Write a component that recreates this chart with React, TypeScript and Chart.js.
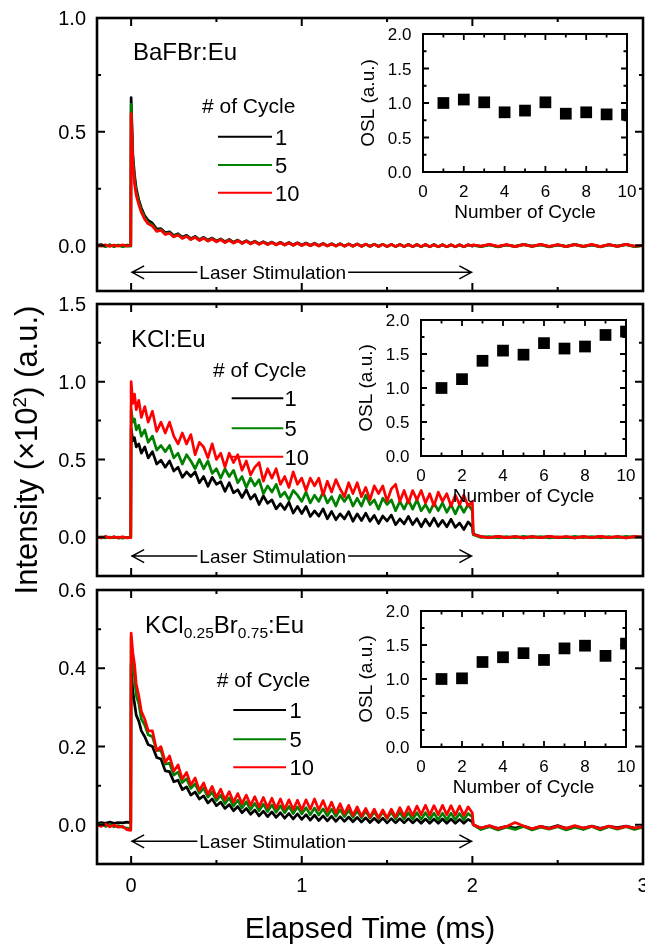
import React, { useEffect, useRef } from 'react';
import { Chart, registerables } from 'chart.js';

Chart.register(...registerables);

const FONT = '"Liberation Sans", Arial, Helvetica, sans-serif';
const PAGE_W = 645;
const PAGE_H = 945;

// ---------------- data ----------------
// elapsed time (ms) shared by all decay curves
const TIME_MS = [
  -0.2, -0.175, -0.15, -0.125, -0.1, -0.075, -0.05, -0.025, -0.002,
  0, 0.01, 0.02, 0.03, 0.045, 0.06, 0.08, 0.1,
  0.125, 0.15, 0.175, 0.2, 0.225, 0.25, 0.275, 0.3, 0.325, 0.35, 0.375, 0.4, 0.425, 0.45, 0.475, 0.5, 0.525, 0.55, 0.575, 0.6,
  0.625, 0.65, 0.675, 0.7, 0.725, 0.75, 0.775, 0.8, 0.825, 0.85, 0.875, 0.9, 0.925, 0.95, 0.975, 1.0,
  1.025, 1.05, 1.075, 1.1, 1.125, 1.15, 1.175, 1.2, 1.225, 1.25, 1.275, 1.3, 1.325, 1.35, 1.375, 1.4,
  1.425, 1.45, 1.475, 1.5, 1.525, 1.55, 1.575, 1.6, 1.625, 1.65, 1.675, 1.7, 1.725, 1.75, 1.775, 1.8,
  1.825, 1.85, 1.875, 1.9, 1.925, 1.95, 1.975, 2.0,
  2.005, 2.05, 2.1, 2.15, 2.2, 2.25, 2.3, 2.35, 2.4, 2.45, 2.5, 2.55, 2.6, 2.65, 2.7, 2.75, 2.8, 2.85, 2.9, 2.95, 3.0,
];

// BaFBr:Eu  (intensity x10^2, a.u.)
const BAFBR_C1 = [
  0.0, 0.004, -0.003, 0.003, -0.004, 0.002, -0.003, 0.002, 0.0,
  0.65, 0.40, 0.31, 0.25, 0.20, 0.165, 0.13, 0.11,
  0.098, 0.072, 0.074, 0.056, 0.060, 0.044, 0.052, 0.036, 0.045, 0.030, 0.040, 0.026, 0.036, 0.024, 0.033, 0.020, 0.029, 0.017, 0.027, 0.014,
  0.024, 0.012, 0.021, 0.010, 0.019, 0.008, 0.017, 0.007, 0.015, 0.005, 0.014, 0.004, 0.013, 0.003, 0.012, 0.002,
  0.011, 0.001, 0.010, 0.0, 0.009, -0.001, 0.008, -0.001, 0.008, -0.002, 0.007, -0.002, 0.007, -0.003, 0.006, -0.003,
  0.006, -0.003, 0.005, -0.004, 0.005, -0.004, 0.005, -0.004, 0.004, -0.005, 0.004, -0.005, 0.004, -0.005, 0.004, -0.005,
  0.003, -0.005, 0.003, -0.005, 0.003, -0.005, 0.003, -0.002,
  0.002, -0.004, 0.004, -0.005, 0.003, -0.004, 0.005, -0.003, 0.004, -0.005, 0.003, -0.004, 0.005, -0.004, 0.003, -0.005, 0.004, -0.003, 0.005, -0.004, 0.0,
];
const BAFBR_C5 = [
  -0.004, 0.0, -0.005, 0.002, -0.004, 0.001, -0.005, -0.002, -0.003,
  0.62, 0.38, 0.29, 0.235, 0.19, 0.155, 0.122, 0.10,
  0.090, 0.066, 0.070, 0.051, 0.056, 0.040, 0.048, 0.033, 0.041, 0.027, 0.037, 0.023, 0.033, 0.020, 0.030, 0.017, 0.027, 0.014, 0.024, 0.011,
  0.022, 0.009, 0.019, 0.007, 0.017, 0.006, 0.015, 0.004, 0.013, 0.003, 0.012, 0.002, 0.011, 0.001, 0.010, 0.0,
  0.009, -0.001, 0.008, -0.002, 0.008, -0.002, 0.007, -0.003, 0.007, -0.003, 0.006, -0.003, 0.006, -0.004, 0.005, -0.004,
  0.005, -0.004, 0.005, -0.005, 0.004, -0.005, 0.004, -0.005, 0.004, -0.005, 0.003, -0.006, 0.003, -0.006, 0.003, -0.006,
  0.003, -0.006, 0.002, -0.006, 0.002, -0.006, 0.002, -0.003,
  0.0, -0.005, 0.003, -0.006, 0.002, -0.005, 0.004, -0.004, 0.003, -0.006, 0.002, -0.005, 0.004, -0.005, 0.002, -0.006, 0.003, -0.004, 0.004, -0.005, -0.001,
];
const BAFBR_C10 = [
  0.002, -0.003, 0.003, -0.004, 0.002, -0.003, 0.003, -0.002, 0.0,
  0.58, 0.36, 0.27, 0.22, 0.18, 0.145, 0.115, 0.095,
  0.085, 0.062, 0.067, 0.048, 0.054, 0.038, 0.046, 0.031, 0.040, 0.026, 0.036, 0.022, 0.032, 0.019, 0.029, 0.016, 0.026, 0.013, 0.023, 0.011,
  0.021, 0.009, 0.019, 0.007, 0.017, 0.005, 0.015, 0.004, 0.013, 0.003, 0.012, 0.002, 0.011, 0.001, 0.010, 0.0,
  0.009, -0.001, 0.008, -0.002, 0.008, -0.002, 0.007, -0.003, 0.007, -0.003, 0.006, -0.003, 0.006, -0.004, 0.006, -0.004,
  0.005, -0.004, 0.005, -0.004, 0.005, -0.005, 0.004, -0.005, 0.004, -0.005, 0.004, -0.005, 0.004, -0.005, 0.003, -0.005,
  0.003, -0.005, 0.003, -0.005, 0.003, -0.005, 0.003, -0.002,
  0.003, -0.003, 0.005, -0.004, 0.004, -0.005, 0.004, -0.004, 0.005, -0.004, 0.004, -0.005, 0.004, -0.004, 0.005, -0.005, 0.004, -0.004, 0.005, -0.003, 0.001,
];

// KCl:Eu
const KCL_C1 = [
  0.0, -0.005, 0.003, -0.004, 0.002, -0.006, 0.0, -0.004, -0.002,
  0.70, 0.62, 0.64, 0.58, 0.60, 0.54, 0.58, 0.51,
  0.55, 0.47, 0.495, 0.45, 0.49, 0.425, 0.45, 0.385, 0.42, 0.39, 0.42, 0.35, 0.39, 0.327, 0.385, 0.34, 0.357, 0.295, 0.35, 0.285,
  0.305, 0.255, 0.305, 0.245, 0.275, 0.21, 0.266, 0.218, 0.24, 0.182, 0.215, 0.178, 0.225, 0.155, 0.198, 0.152,
  0.198, 0.133, 0.169, 0.135, 0.182, 0.118, 0.165, 0.112, 0.15, 0.117, 0.164, 0.102, 0.15, 0.107, 0.154, 0.102,
  0.14, 0.088, 0.136, 0.104, 0.142, 0.08, 0.117, 0.085, 0.133, 0.081, 0.119, 0.067, 0.115, 0.073, 0.122, 0.07,
  0.108, 0.066, 0.115, 0.063, 0.091, 0.049, 0.098, 0.066,
  0.02, 0.004, -0.003, 0.005, -0.004, 0.003, -0.005, 0.004, -0.003, 0.005, -0.004, 0.002, -0.005, 0.004, -0.003, 0.005, -0.004, 0.003, -0.005, 0.004, 0.0,
];
const KCL_C5 = [
  -0.003, 0.002, -0.005, 0.001, -0.004, 0.0, -0.006, -0.002, -0.004,
  0.82, 0.74, 0.76, 0.69, 0.72, 0.65, 0.69, 0.61,
  0.65, 0.56, 0.59, 0.55, 0.59, 0.51, 0.54, 0.47, 0.53, 0.49, 0.44, 0.50, 0.44, 0.49, 0.41, 0.44, 0.38, 0.44, 0.39, 0.43,
  0.35, 0.39, 0.32, 0.38, 0.33, 0.37, 0.28, 0.33, 0.29, 0.34, 0.26, 0.29, 0.24, 0.30, 0.27, 0.23,
  0.29, 0.22, 0.27, 0.23, 0.29, 0.22, 0.26, 0.20, 0.27, 0.23, 0.27, 0.20, 0.25, 0.20, 0.27, 0.21,
  0.24, 0.18, 0.25, 0.21, 0.24, 0.17, 0.23, 0.18, 0.24, 0.18, 0.24, 0.17, 0.21, 0.16, 0.22, 0.17,
  0.22, 0.16, 0.21, 0.15, 0.21, 0.16, 0.21, 0.17,
  0.015, -0.002, 0.004, -0.005, 0.003, -0.004, 0.005, -0.003, 0.004, -0.005, 0.002, -0.004, 0.005, -0.003, 0.004, -0.005, 0.003, -0.004, 0.005, -0.002, 0.001,
];
const KCL_C10 = [
  0.002, -0.004, 0.003, -0.005, 0.001, -0.003, 0.002, -0.005, -0.003,
  1.0, 0.86, 0.92, 0.82, 0.88, 0.77, 0.84, 0.74,
  0.81, 0.68, 0.74, 0.67, 0.74, 0.65, 0.60, 0.67, 0.60, 0.66, 0.53, 0.61, 0.58, 0.51, 0.60, 0.50, 0.54, 0.45, 0.54, 0.48,
  0.53, 0.43, 0.49, 0.40, 0.45, 0.48, 0.36, 0.44, 0.38, 0.44, 0.34, 0.39, 0.32, 0.42, 0.34, 0.38,
  0.30, 0.38, 0.33, 0.38, 0.27, 0.36, 0.29, 0.37, 0.31, 0.26, 0.35, 0.28, 0.35, 0.26, 0.32, 0.24,
  0.33, 0.28, 0.33, 0.23, 0.31, 0.34, 0.23, 0.30, 0.22, 0.30, 0.24, 0.30, 0.22, 0.28, 0.20, 0.29,
  0.23, 0.28, 0.20, 0.27, 0.21, 0.27, 0.20, 0.23,
  0.02, 0.003, -0.004, 0.005, -0.003, 0.004, -0.005, 0.003, -0.004, 0.005, -0.002, 0.004, -0.005, 0.003, -0.004, 0.005, -0.003, 0.004, -0.005, 0.003, 0.0,
];

// KCl0.25Br0.75:Eu
const KCLBR_C1 = [
  0.003, 0.006, 0.004, 0.007, 0.004, 0.006, 0.005, 0.007, 0.005,
  0.41, 0.34, 0.31, 0.28, 0.265, 0.24, 0.225, 0.205,
  0.20, 0.172, 0.168, 0.138, 0.136, 0.110, 0.114, 0.090, 0.097, 0.076, 0.084, 0.066, 0.074, 0.056, 0.066, 0.049, 0.058, 0.042, 0.052, 0.036,
  0.047, 0.031, 0.042, 0.027, 0.038, 0.023, 0.035, 0.021, 0.033, 0.019, 0.031, 0.017, 0.029, 0.015, 0.028, 0.014,
  0.026, 0.012, 0.025, 0.011, 0.023, 0.010, 0.022, 0.009, 0.021, 0.009, 0.020, 0.008, 0.019, 0.007, 0.018, 0.006,
  0.017, 0.006, 0.017, 0.005, 0.016, 0.005, 0.016, 0.005, 0.016, 0.005, 0.015, 0.004, 0.015, 0.004, 0.015, 0.004,
  0.015, 0.004, 0.015, 0.004, 0.014, 0.004, 0.014, 0.008,
  0.0, -0.008, -0.003, -0.009, -0.004, -0.008, -0.003, -0.010, -0.004, -0.008, -0.002, -0.009, -0.004, -0.008, -0.003, -0.009, -0.004, -0.007, -0.003, -0.008, -0.005,
];
const KCLBR_C5 = [
  -0.002, 0.002, -0.004, 0.001, -0.005, -0.002, -0.006, -0.008, -0.01,
  0.48, 0.40, 0.38, 0.33, 0.31, 0.27, 0.255, 0.23,
  0.225, 0.19, 0.19, 0.155, 0.158, 0.127, 0.135, 0.108, 0.118, 0.093, 0.105, 0.081, 0.094, 0.071, 0.084, 0.062, 0.076, 0.054, 0.069, 0.048,
  0.063, 0.043, 0.059, 0.039, 0.055, 0.036, 0.053, 0.034, 0.051, 0.032, 0.049, 0.031, 0.047, 0.029, 0.046, 0.028,
  0.044, 0.026, 0.043, 0.025, 0.041, 0.023, 0.040, 0.022, 0.039, 0.021, 0.037, 0.019, 0.036, 0.018, 0.035, 0.017,
  0.033, 0.016, 0.033, 0.016, 0.032, 0.015, 0.032, 0.015, 0.031, 0.014, 0.031, 0.014, 0.031, 0.014, 0.030, 0.013,
  0.030, 0.013, 0.030, 0.013, 0.029, 0.013, 0.029, 0.02,
  0.0, -0.012, -0.005, -0.013, -0.006, -0.012, -0.004, -0.013, -0.006, -0.011, -0.005, -0.013, -0.006, -0.012, -0.004, -0.013, -0.005, -0.011, -0.005, -0.012, -0.006,
];
const KCLBR_C10 = [
  0.0, -0.004, 0.002, -0.005, 0.0, -0.006, -0.004, -0.012, -0.014,
  0.49, 0.44, 0.41, 0.36, 0.33, 0.29, 0.27, 0.24,
  0.24, 0.19, 0.20, 0.16, 0.176, 0.137, 0.153, 0.117, 0.134, 0.102, 0.12, 0.088, 0.107, 0.078, 0.098, 0.07, 0.091, 0.064, 0.085, 0.058,
  0.08, 0.054, 0.076, 0.05, 0.072, 0.046, 0.07, 0.044, 0.068, 0.042, 0.066, 0.04, 0.064, 0.039, 0.063, 0.038,
  0.064, 0.04, 0.066, 0.038, 0.062, 0.034, 0.058, 0.03, 0.054, 0.028, 0.05, 0.024, 0.046, 0.022, 0.042, 0.02,
  0.04, 0.018, 0.038, 0.018, 0.04, 0.02, 0.044, 0.022, 0.046, 0.024, 0.048, 0.026, 0.05, 0.025, 0.049, 0.026,
  0.05, 0.026, 0.049, 0.025, 0.048, 0.024, 0.046, 0.03,
  0.0, -0.008, -0.002, -0.01, -0.004, 0.006, -0.003, -0.01, -0.004, -0.01, -0.003, -0.009, -0.002, -0.008, -0.004, -0.01, -0.003, -0.009, -0.004, -0.008, -0.005,
];

const CYCLE_LABELS = ['1', '5', '10'];
const SERIES_COLORS = ['#000000', '#008000', '#ff0000'];
const LEGEND_TITLE = '# of Cycle';
const ARROW_TEXT = 'Laser Stimulation';

const X_MIN = -0.2;
const X_MAX = 3.0;
const X_MAJOR = [0, 1, 2, 3];
const X_MINOR = [0.5, 1.5, 2.5];
const X_TICK_LABELS = ['0', '1', '2', '3'];

const P1_Y_TICKS = [0, 0.5, 1.0];
const P1_Y_LABELS = ['0.0', '0.5', '1.0'];
const P1_Y_MINOR = [0.25, 0.75];
const P2_Y_TICKS = [0, 0.5, 1.0, 1.5];
const P2_Y_LABELS = ['0.0', '0.5', '1.0', '1.5'];
const P2_Y_MINOR = [0.25, 0.75, 1.25];
const P3_Y_TICKS = [0, 0.2, 0.4, 0.6];
const P3_Y_LABELS = ['0.0', '0.2', '0.4', '0.6'];
const P3_Y_MINOR = [0.1, 0.3, 0.5];

// insets: OSL vs number of cycle
const CYCLE_NUMBERS = [1, 2, 3, 4, 5, 6, 7, 8, 9, 10];
const OSL_BAFBR = [1.0, 1.05, 1.01, 0.865, 0.89, 1.01, 0.845, 0.865, 0.835, 0.83];
const OSL_KCL = [1.0, 1.13, 1.40, 1.55, 1.49, 1.66, 1.58, 1.61, 1.78, 1.83];
const OSL_KCLBR = [1.0, 1.01, 1.25, 1.32, 1.38, 1.28, 1.45, 1.49, 1.34, 1.52];
const INSET_X_TICKS = [0, 2, 4, 6, 8, 10];
const INSET_X_LABELS = ['0', '2', '4', '6', '8', '10'];
const INSET_X_MINOR = [1, 3, 5, 7, 9];
const INSET_Y_TICKS = [0, 0.5, 1.0, 1.5, 2.0];
const INSET_Y_LABELS = ['0.0', '0.5', '1.0', '1.5', '2.0'];
const INSET_Y_MINOR = [0.25, 0.75, 1.25, 1.75];
const INSET_X_TITLE = 'Number of Cycle';
const INSET_Y_TITLE = 'OSL (a.u.)';

// ---------------- layout ----------------
const PANELS = [
  {
    box: { left: 97, top: 18, right: 643, bottom: 291 },
    yMin: -0.2, yMax: 1.0,
    yTicks: P1_Y_TICKS, yLabels: P1_Y_LABELS, yMinor: P1_Y_MINOR,
    series: [BAFBR_C1, BAFBR_C5, BAFBR_C10],
    name: [{ t: 'BaFBr:Eu' }], nameX: 133, nameY: 59.5,
    legend: { titleX: 202, titleY: 113, x0: 218, x1: 272, rows: [136.7, 165, 192.7], labelX: 275 },
    arrowY: -0.118,
  },
  {
    box: { left: 97, top: 304, right: 643, bottom: 576 },
    yMin: -0.25, yMax: 1.5,
    yTicks: P2_Y_TICKS, yLabels: P2_Y_LABELS, yMinor: P2_Y_MINOR,
    series: [KCL_C1, KCL_C5, KCL_C10],
    name: [{ t: 'KCl:Eu' }], nameX: 131, nameY: 346.7,
    legend: { titleX: 213, titleY: 376.7, x0: 231.7, x1: 283.3, rows: [398.3, 428.3, 456.7], labelX: 284.5 },
    arrowY: -0.122,
    yTitle: true,
  },
  {
    box: { left: 97, top: 590, right: 643, bottom: 864 },
    yMin: -0.1, yMax: 0.6,
    yTicks: P3_Y_TICKS, yLabels: P3_Y_LABELS, yMinor: P3_Y_MINOR,
    series: [KCLBR_C1, KCLBR_C5, KCLBR_C10],
    name: [{ t: 'KCl' }, { t: '0.25', sub: true }, { t: 'Br' }, { t: '0.75', sub: true }, { t: ':Eu' }],
    nameX: 145, nameY: 633.3,
    legend: { titleX: 216.7, titleY: 686.7, x0: 233.3, x1: 286, rows: [710, 739.3, 767.3], labelX: 289.5 },
    arrowY: -0.042,
    xAxis: true,
  },
];

const INSETS = [
  { box: { left: 423, top: 34, right: 627, bottom: 172 }, values: OSL_BAFBR },
  { box: { left: 421, top: 320, right: 626, bottom: 456 }, values: OSL_KCL },
  { box: { left: 421, top: 611, right: 626, bottom: 747 }, values: OSL_KCLBR },
];

// ---------------- drawing helpers ----------------
const f = (size: number) => `${size}px ${FONT}`;

function drawFrame(ctx: any, a: any, xs: any, ys: any, cfg: any) {
  ctx.strokeStyle = '#000';
  ctx.lineWidth = cfg.frameWidth;
  ctx.strokeRect(a.left, a.top, a.right - a.left, a.bottom - a.top);
  ctx.lineWidth = cfg.tickWidth;
  ctx.lineCap = 'butt';
  ctx.beginPath();
  const xt = (vals: number[], len: number) => vals.forEach((v) => {
    const p = xs.getPixelForValue(v);
    ctx.moveTo(p, a.bottom); ctx.lineTo(p, a.bottom - len);
    ctx.moveTo(p, a.top); ctx.lineTo(p, a.top + len);
  });
  const yt = (vals: number[], len: number) => vals.forEach((v) => {
    const p = ys.getPixelForValue(v);
    ctx.moveTo(a.left, p); ctx.lineTo(a.left + len, p);
    ctx.moveTo(a.right, p); ctx.lineTo(a.right - len, p);
  });
  xt(cfg.xMajor, cfg.majorLen);
  xt(cfg.xMinor, cfg.minorLen);
  yt(cfg.yMajor, cfg.majorLen);
  yt(cfg.yMinor, cfg.minorLen);
  ctx.stroke();
}

function drawSegments(ctx: any, segs: any[], x: number, y: number, size: number, subSize: number, drop: number) {
  let cx = x;
  ctx.textAlign = 'left';
  ctx.textBaseline = 'alphabetic';
  segs.forEach((s) => {
    ctx.font = f(s.sub ? subSize : size);
    ctx.fillText(s.t, cx, s.sub ? y + drop : y);
    cx += ctx.measureText(s.t).width;
  });
}

function segWidth(ctx: any, segs: any[]) {
  let w = 0;
  segs.forEach((s) => { ctx.font = f(s.size); w += ctx.measureText(s.t).width; });
  return w;
}

function mainPlugin(p: any) {
  return {
    id: 'mainDecor',
    afterDatasetsDraw(chart: any) {
      const { ctx, chartArea: a } = chart;
      const xs = chart.scales.x;
      const ys = chart.scales.y;
      ctx.save();
      drawFrame(ctx, a, xs, ys, {
        frameWidth: 2.6, tickWidth: 2, majorLen: 8, minorLen: 4,
        xMajor: X_MAJOR, xMinor: X_MINOR, yMajor: p.yTicks, yMinor: p.yMinor,
      });
      ctx.fillStyle = '#000';
      // y tick labels
      const ts = 20;
      ctx.font = f(ts);
      ctx.textAlign = 'right';
      ctx.textBaseline = 'alphabetic';
      p.yTicks.forEach((v: number, i: number) => {
        ctx.fillText(p.yLabels[i], a.left - 11, ys.getPixelForValue(v) + 0.358 * ts);
      });
      // sample name
      drawSegments(ctx, p.name, p.nameX, p.nameY, 24, 15.5, 5);
      // legend
      const lg = p.legend;
      ctx.font = f(21);
      ctx.textAlign = 'left';
      ctx.fillText(LEGEND_TITLE, lg.titleX, lg.titleY);
      chart.data.datasets.forEach((ds: any, i: number) => {
        const y = lg.rows[i];
        ctx.strokeStyle = ds.borderColor;
        ctx.lineWidth = 2;
        ctx.beginPath();
        ctx.moveTo(lg.x0, y); ctx.lineTo(lg.x1, y);
        ctx.stroke();
        ctx.font = f(22);
        ctx.fillText(ds.label, lg.labelX, y + 0.358 * 22);
      });
      // laser stimulation arrow
      const x0 = xs.getPixelForValue(0);
      const x2 = xs.getPixelForValue(2);
      const tx = xs.getPixelForValue(0.83);
      const ay = ys.getPixelForValue(p.arrowY);
      const as = 19;
      ctx.font = f(as);
      const tw = ctx.measureText(ARROW_TEXT).width;
      ctx.textAlign = 'center';
      ctx.fillText(ARROW_TEXT, tx, ay + 0.358 * as);
      ctx.strokeStyle = '#000';
      ctx.lineWidth = 1.5;
      ctx.lineJoin = 'miter';
      ctx.beginPath();
      ctx.moveTo(x0, ay); ctx.lineTo(tx - tw / 2 - 2, ay);
      ctx.moveTo(tx + tw / 2 + 2, ay); ctx.lineTo(x2, ay);
      ctx.moveTo(x0 + 13, ay - 6.5); ctx.lineTo(x0 + 1, ay); ctx.lineTo(x0 + 13, ay + 6.5);
      ctx.moveTo(x2 - 13, ay - 6.5); ctx.lineTo(x2 - 1, ay); ctx.lineTo(x2 - 13, ay + 6.5);
      ctx.stroke();
      // bottom axis labels and title
      if (p.xAxis) {
        ctx.font = f(ts);
        ctx.textAlign = 'center';
        X_MAJOR.forEach((v, i) => ctx.fillText(X_TICK_LABELS[i], xs.getPixelForValue(v), a.bottom + 28));
        ctx.font = f(30);
        ctx.fillText('Elapsed Time (ms)', (a.left + a.right) / 2, 938);
      }
      // shared y title
      if (p.yTitle) {
        const segs = [
          { t: 'Intensity (\u00d710', size: 31 },
          { t: '2', size: 19, sup: true },
          { t: ') (a.u.)', size: 31 },
        ];
        const w = segWidth(ctx, segs);
        ctx.translate(37, 450);
        ctx.rotate(-Math.PI / 2);
        ctx.textAlign = 'left';
        let cx = -w / 2;
        segs.forEach((s: any) => {
          ctx.font = f(s.size);
          ctx.fillText(s.t, cx, s.sup ? -11 : 0);
          cx += ctx.measureText(s.t).width;
        });
      }
      ctx.restore();
    },
  };
}

function insetPlugin() {
  return {
    id: 'insetDecor',
    afterDatasetsDraw(chart: any) {
      const { ctx, chartArea: a } = chart;
      const xs = chart.scales.x;
      const ys = chart.scales.y;
      ctx.save();
      drawFrame(ctx, a, xs, ys, {
        frameWidth: 2, tickWidth: 1.8, majorLen: 6, minorLen: 3.5,
        xMajor: INSET_X_TICKS, xMinor: INSET_X_MINOR, yMajor: INSET_Y_TICKS, yMinor: INSET_Y_MINOR,
      });
      ctx.fillStyle = '#000';
      const ts = 17;
      ctx.font = f(ts);
      ctx.textBaseline = 'alphabetic';
      ctx.textAlign = 'right';
      INSET_Y_TICKS.forEach((v, i) => ctx.fillText(INSET_Y_LABELS[i], a.left - 11.5, ys.getPixelForValue(v) + 0.358 * ts));
      ctx.textAlign = 'center';
      INSET_X_TICKS.forEach((v, i) => ctx.fillText(INSET_X_LABELS[i], xs.getPixelForValue(v), a.bottom + 24.5));
      ctx.font = f(19);
      ctx.fillText(INSET_X_TITLE, (a.left + a.right) / 2, a.bottom + 46);
      ctx.translate(a.left - 49.5, (a.top + a.bottom) / 2);
      ctx.rotate(-Math.PI / 2);
      ctx.fillText(INSET_Y_TITLE, 0, 0);
      ctx.restore();
    },
  };
}

function padFor(box: any) {
  return { left: box.left, top: box.top, right: PAGE_W - box.right, bottom: PAGE_H - box.bottom };
}

function mainConfig(p: any): any {
  return {
    type: 'line',
    data: {
      datasets: p.series.map((vals: number[], i: number) => ({
        label: CYCLE_LABELS[i],
        data: TIME_MS.map((t, k) => ({ x: t, y: vals[k] })),
        borderColor: SERIES_COLORS[i],
        backgroundColor: SERIES_COLORS[i],
        borderWidth: 2.7,
        borderJoinStyle: 'round',
        pointRadius: 0,
        tension: 0,
        fill: false,
        order: 3 - i,
      })),
    },
    options: {
      responsive: false,
      animation: false,
      devicePixelRatio: 1,
      events: [],
      layout: { padding: padFor(p.box) },
      scales: {
        x: { type: 'linear', min: X_MIN, max: X_MAX, display: false },
        y: { type: 'linear', min: p.yMin, max: p.yMax, display: false },
      },
      plugins: { legend: { display: false }, tooltip: { enabled: false } },
    },
    plugins: [mainPlugin(p)],
  };
}

function insetConfig(s: any): any {
  return {
    type: 'scatter',
    data: {
      datasets: [{
        label: 'OSL',
        data: CYCLE_NUMBERS.map((c, i) => ({ x: c, y: s.values[i] })),
        pointStyle: 'rect',
        pointRadius: 8.3,
        backgroundColor: '#000',
        borderColor: '#000',
        borderWidth: 0,
        clip: 0,
      }],
    },
    options: {
      responsive: false,
      animation: false,
      devicePixelRatio: 1,
      events: [],
      layout: { padding: padFor(s.box) },
      scales: {
        x: { type: 'linear', min: 0, max: 10, display: false },
        y: { type: 'linear', min: 0, max: 2, display: false },
      },
      plugins: { legend: { display: false }, tooltip: { enabled: false } },
    },
    plugins: [insetPlugin()],
  };
}

function ChartCanvas({ make }: { make: () => any }) {
  const ref = useRef<HTMLCanvasElement>(null);
  useEffect(() => {
    const chart = new Chart(ref.current as HTMLCanvasElement, make());
    return () => chart.destroy();
  }, []);
  return (
    <canvas
      ref={ref}
      width={PAGE_W}
      height={PAGE_H}
      style={{ position: 'absolute', left: 0, top: 0, width: PAGE_W, height: PAGE_H }}
    />
  );
}

export default function App() {
  return (
    <div style={{ position: 'absolute', left: 0, top: 0, width: PAGE_W, height: PAGE_H, background: '#fff', overflow: 'hidden' }}>
      {PANELS.map((p, i) => <ChartCanvas key={'m' + i} make={() => mainConfig(p)} />)}
      {INSETS.map((s, i) => <ChartCanvas key={'i' + i} make={() => insetConfig(s)} />)}
    </div>
  );
}
